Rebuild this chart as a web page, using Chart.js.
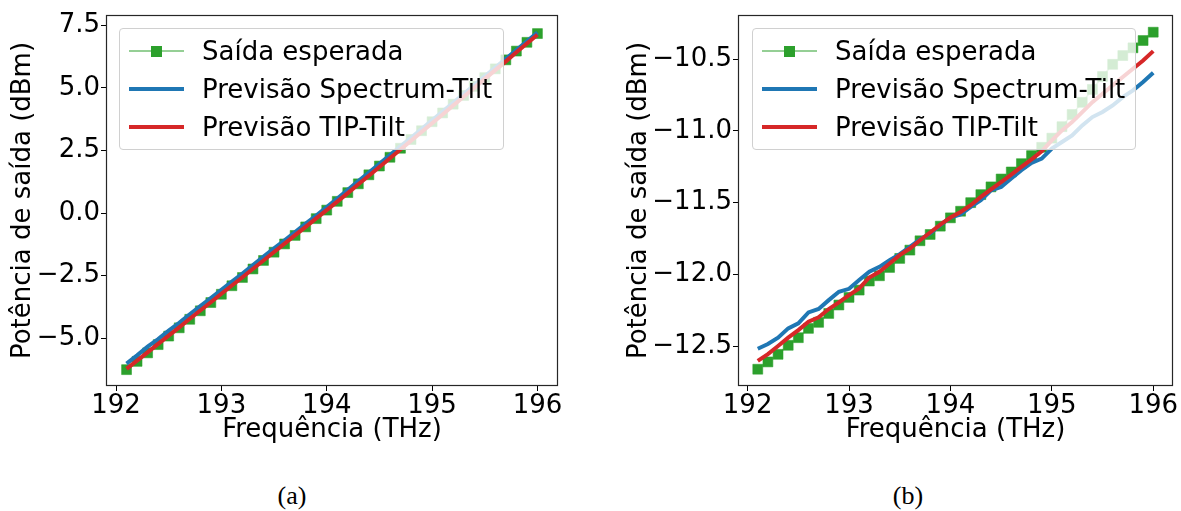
<!DOCTYPE html>
<html>
<head>
<meta charset="utf-8">
<script src="https://cdn.jsdelivr.net/npm/chart.js@4.4.1/dist/chart.umd.min.js"></script>
<style>
  body { margin: 0; background: #fff; }
  #fig { position: relative; width: 1181px; height: 511px; overflow: hidden; font-family: 'DejaVu Sans', sans-serif; }
  canvas { position: absolute; top: 0; }
  .legend { position: absolute; box-sizing: border-box; border: 1px solid #d0d0d0; border-radius: 4px; background: rgba(255,255,255,0.8); }
  .legend .row { position: absolute; left: 0; height: 30px; line-height: 30px; font-size: 26px; color: #000; white-space: nowrap; }
  .legend .handle { position: absolute; top: 0; height: 30px; }
  .legend .line { position: absolute; left: 0; right: 0; top: 50%; }
  .legend .mark { position: absolute; left: 50%; top: 50%; width: 11px; height: 11px; margin: -5.5px 0 0 -5.5px; }
  .caption { position: absolute; top: 481px; width: 60px; margin-left: -30px; text-align: center; font-family: 'Liberation Serif', serif; font-size: 26px; color: #000; }
</style>
</head>
<body>
<div id="fig">
  <canvas id="left" width="600" height="470" style="left:0"></canvas>
  <canvas id="right" width="581" height="470" style="left:600px"></canvas>
  <div class="caption" style="left:292px">(a)</div>
  <div class="caption" style="left:908px">(b)</div>
</div>
<script>
// ── data ──────────────────────────────────────────────────────────────────────
const freq = [192.1, 192.2, 192.3, 192.4, 192.5, 192.6, 192.7, 192.8, 192.9, 193.0,
              193.1, 193.2, 193.3, 193.4, 193.5, 193.6, 193.7, 193.8, 193.9, 194.0,
              194.1, 194.2, 194.3, 194.4, 194.5, 194.6, 194.7, 194.8, 194.9, 195.0,
              195.1, 195.2, 195.3, 195.4, 195.5, 195.6, 195.7, 195.8, 195.9, 196.0];

const seriesNames = ['Saída esperada', 'Previsão Spectrum-Tilt', 'Previsão TIP-Tilt'];

// (a)
const expectedA = [-6.25, -5.92, -5.58, -5.25, -4.91, -4.58, -4.24, -3.90, -3.57, -3.24,
                   -2.90, -2.57, -2.23, -1.89, -1.56, -1.23, -0.89, -0.55, -0.22, 0.12,
                   0.47, 0.82, 1.17, 1.53, 1.88, 2.23, 2.59, 2.94, 3.29, 3.65,
                   4.00, 4.35, 4.70, 5.06, 5.41, 5.76, 6.12, 6.47, 6.82, 7.17];
const spectrumA = [-6.01, -5.68, -5.33, -5.03, -4.69, -4.38, -4.04, -3.71, -3.39, -3.06,
                   -2.73, -2.41, -2.07, -1.74, -1.41, -1.09, -0.76, -0.42, -0.10, 0.24,
                   0.58, 0.93, 1.28, 1.62, 1.97, 2.32, 2.67, 3.01, 3.36, 3.71,
                   4.06, 4.41, 4.76, 5.11, 5.46, 5.81, 6.16, 6.51, 6.86, 7.21];
const tipA      = [-6.22, -5.89, -5.56, -5.22, -4.89, -4.56, -4.22, -3.89, -3.56, -3.22,
                   -2.89, -2.56, -2.22, -1.89, -1.55, -1.22, -0.88, -0.55, -0.21, 0.12,
                   0.46, 0.80, 1.15, 1.49, 1.84, 2.19, 2.54, 2.89, 3.24, 3.59,
                   3.94, 4.30, 4.65, 5.00, 5.36, 5.71, 6.06, 6.42, 6.77, 7.12];

// (b)
const expectedB = [-12.662, -12.611, -12.558, -12.495, -12.442, -12.377, -12.335, -12.273, -12.214, -12.161,
                   -12.110, -12.047, -12.010, -11.952, -11.889, -11.831, -11.766, -11.722, -11.664, -11.606,
                   -11.560, -11.500, -11.444, -11.390, -11.335, -11.286, -11.228, -11.172, -11.114, -11.050,
                   -10.970, -10.885, -10.800, -10.710, -10.620, -10.535, -10.474, -10.420, -10.369, -10.311];
const spectrumB = [-12.519, -12.486, -12.442, -12.377, -12.342, -12.266, -12.242, -12.180, -12.122, -12.101,
                   -12.040, -11.982, -11.948, -11.901, -11.859, -11.808, -11.757, -11.715, -11.657, -11.604,
                   -11.583, -11.530, -11.483, -11.414, -11.390, -11.332, -11.274, -11.223, -11.193, -11.123,
                   -11.077, -11.031, -10.961, -10.903, -10.868, -10.822, -10.764, -10.717, -10.659, -10.594];
const tipB      = [-12.604, -12.556, -12.500, -12.442, -12.389, -12.331, -12.300, -12.242, -12.196, -12.145,
                   -12.098, -12.022, -11.982, -11.924, -11.866, -11.820, -11.762, -11.708, -11.653, -11.604,
                   -11.565, -11.518, -11.460, -11.407, -11.356, -11.305, -11.251, -11.198, -11.142, -11.065,
                   -10.996, -10.938, -10.868, -10.799, -10.740, -10.682, -10.624, -10.566, -10.508, -10.443];

const xTicks      = [192, 193, 194, 195, 196];
const yTicksA     = [-5.0, -2.5, 0.0, 2.5, 5.0, 7.5];
const yTicksB     = [-12.5, -12.0, -11.5, -11.0, -10.5];

// ── styling ───────────────────────────────────────────────────────────────────
const GREEN = '#2ca02c', BLUE = '#1f77b4', RED = '#d62728';

Chart.defaults.font.family = 'DejaVu Sans';
Chart.defaults.font.size   = 26;
Chart.defaults.color       = '#000';

const fmtY = v => v.toFixed(1).replace('-', '\u2212');

// axes frame (all four spines)
const framePlugin = {
  id: 'frame',
  afterDatasetsDraw(chart) {
    const { ctx, chartArea: a } = chart;
    ctx.save();
    ctx.strokeStyle = '#262626';
    ctx.lineWidth = 1.2;
    ctx.strokeRect(Math.round(a.left) + 0.5, Math.round(a.top) + 0.5,
                   Math.round(a.right - a.left) - 1, Math.round(a.bottom - a.top) - 1);
    ctx.restore();
  }
};

const pts = arr => freq.map((f, i) => ({ x: f, y: arr[i] }));

function makeChart(id, cfg) {
  const { exp, spec, tip, yMin, yMax, yTicks, yAxisW, yTitlePad, padRight } = cfg;
  return new Chart(document.getElementById(id), {
    type: 'line',
    data: {
      datasets: [
        { label: seriesNames[0], data: pts(exp), order: 3,
          borderColor: 'rgba(44,160,44,0.5)', borderWidth: 1.5,
          pointStyle: 'rect', pointRadius: 7, pointHoverRadius: 7,
          pointBackgroundColor: GREEN, pointBorderColor: 'rgba(44,160,44,0.55)', pointBorderWidth: 1 },
        { label: seriesNames[1], data: pts(spec), order: 2,
          borderColor: BLUE, borderWidth: 4, pointRadius: 0, tension: 0 },
        { label: seriesNames[2], data: pts(tip), order: 1,
          borderColor: RED, borderWidth: 4, pointRadius: 0, tension: 0 },
      ]
    },
    options: {
      responsive: false,
      animation: false,
      devicePixelRatio: 1,
      layout: { padding: { left: 0, top: 15, right: padRight, bottom: 0 } },
      plugins: { legend: { display: false }, tooltip: { enabled: false } },
      scales: {
        x: {
          type: 'linear', min: 191.905, max: 196.195,
          afterBuildTicks: s => { s.ticks = xTicks.map(v => ({ value: v })); },
          afterFit: s => { s.height = 84; s.paddingLeft = 0; s.paddingRight = 0; },
          ticks: { padding: 0, callback: v => String(v), maxRotation: 0, autoSkip: false },
          grid: { drawOnChartArea: false, drawTicks: true, tickLength: 5, color: '#000' },
          border: { display: false },
          title: { display: true, text: 'Frequência (THz)', padding: { top: 0, bottom: 24 } },
        },
        y: {
          type: 'linear', min: yMin, max: yMax,
          afterBuildTicks: s => { s.ticks = yTicks.map(v => ({ value: v })); },
          afterFit: s => { s.width = yAxisW; s.paddingTop = 0; s.paddingBottom = 0; },
          ticks: { padding: 1, callback: v => fmtY(v), autoSkip: false },
          grid: { drawOnChartArea: false, drawTicks: true, tickLength: 5, color: '#000' },
          border: { display: false },
          title: { display: true, text: 'Potência de saída (dBm)', padding: { top: yTitlePad, bottom: 0 } },
        }
      }
    },
    plugins: [framePlugin]
  });
}

const chartA = makeChart('left', {
  exp: expectedA, spec: spectrumA, tip: tipA,
  yMin: -6.903, yMax: 7.911, yTicks: yTicksA, yAxisW: 106, yTitlePad: 8, padRight: 42
});
const chartB = makeChart('right', {
  exp: expectedB, spec: spectrumB, tip: tipB,
  yMin: -12.779, yMax: -10.191, yTicks: yTicksB, yAxisW: 138, yTitlePad: 24, padRight: 7
});

// ── legends (drawn over the plot with a translucent box, like matplotlib) ─────
function addLegend(chart, left, top, width) {
  const fig = document.getElementById('fig');
  const box = document.createElement('div');
  box.className = 'legend';
  Object.assign(box.style, { left: left + 'px', top: top + 'px', width: width + 'px', height: '122px' });
  chart.data.datasets.forEach((ds, i) => {
    const row = document.createElement('div');
    row.className = 'row';
    row.style.top = (7 + i * 38) + 'px';
    const h = document.createElement('div');
    h.className = 'handle';
    Object.assign(h.style, { left: '9px', width: '55px' });
    const ln = document.createElement('div');
    ln.className = 'line';
    const lw = ds.pointRadius ? 2 : ds.borderWidth;
    Object.assign(ln.style, { height: lw + 'px', marginTop: (-lw / 2) + 'px', background: ds.borderColor });
    h.appendChild(ln);
    if (ds.pointRadius) {
      const mk = document.createElement('div');
      mk.className = 'mark';
      mk.style.background = ds.pointBackgroundColor;
      h.appendChild(mk);
    }
    const txt = document.createElement('span');
    txt.textContent = ds.label;
    txt.style.position = 'absolute';
    txt.style.left = '82px';
    row.appendChild(h);
    row.appendChild(txt);
    box.appendChild(row);
  });
  fig.appendChild(box);
}

addLegend(chartA, 119, 28, 385);
addLegend(chartB, 752, 28, 384);
</script>
</body>
</html>
